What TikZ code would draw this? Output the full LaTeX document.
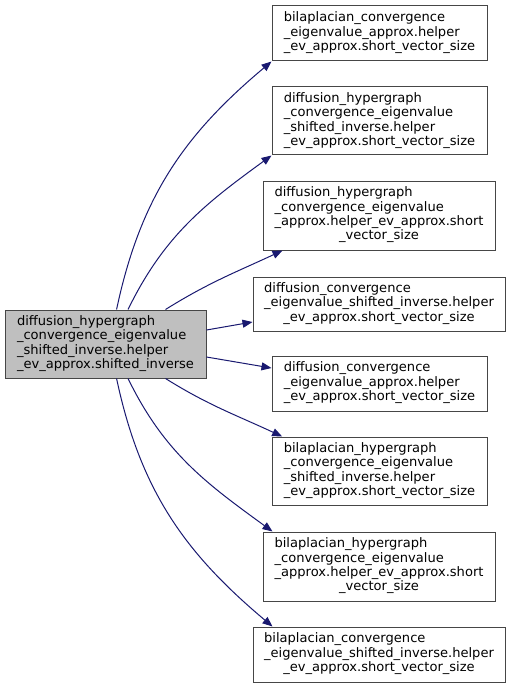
\documentclass[tikz,border=0pt]{standalone}
\usepackage{fontspec}
\setmainfont{DejaVu Sans}
\usepackage{tikz}
\usetikzlibrary{arrows.meta,positioning}

\definecolor{edgeblue}{RGB}{25,25,112}
\definecolor{maingrey}{RGB}{191,191,191}
\definecolor{boxline}{RGB}{70,70,70}

% lines left aligned, last line centred
\newcommand{\fnlabel}[2]{\begin{tabular}{@{}l@{}}#1\\\multicolumn{1}{@{}c@{}}{#2}\end{tabular}}

\begin{document}
\begin{tikzpicture}[
    x=0.75pt, y=0.75pt,
    every node/.style={font=\fontsize{9.8}{10.8}\selectfont},
    fnbox/.style={draw=boxline, fill=white, line width=0.75pt, inner sep=0pt},
    mainbox/.style={fnbox, fill=maingrey},
    call/.style={draw=edgeblue, line width=0.75pt,
        -{Triangle[length=7.5pt,width=6pt]}, fill=none}
]
\useasboundingbox (0,0) rectangle (511,-688);

% Caller
\node[mainbox, minimum width=150.75pt, minimum height=51pt] (main) at (105.5,-344)
    {\fnlabel{diffusion\_hypergraph\\\_convergence\_eigenvalue\\\_shifted\_inverse.helper}{\_ev\_approx.shifted\_inverse}};

% Callees
\node[fnbox, minimum width=161.25pt, minimum height=41.25pt] (t1) at (379.5,-33.5)
    {\fnlabel{bilaplacian\_convergence\\\_eigenvalue\_approx.helper}{\_ev\_approx.short\_vector\_size}};
\node[fnbox, minimum width=161.25pt, minimum height=51pt] (t2) at (379.5,-121)
    {\fnlabel{diffusion\_hypergraph\\\_convergence\_eigenvalue\\\_shifted\_inverse.helper}{\_ev\_approx.short\_vector\_size}};
\node[fnbox, minimum width=174pt, minimum height=51.75pt] (t3) at (379,-215.5)
    {\fnlabel{diffusion\_hypergraph\\\_convergence\_eigenvalue\\\_approx.helper\_ev\_approx.short}{\_vector\_size}};
\node[fnbox, minimum width=189pt, minimum height=40.5pt] (t4) at (379,-304)
    {\fnlabel{diffusion\_convergence\\\_eigenvalue\_shifted\_inverse.helper}{\_ev\_approx.short\_vector\_size}};
\node[fnbox, minimum width=161.25pt, minimum height=41.25pt] (t5) at (379.5,-383.5)
    {\fnlabel{diffusion\_convergence\\\_eigenvalue\_approx.helper}{\_ev\_approx.short\_vector\_size}};
\node[fnbox, minimum width=161.25pt, minimum height=51pt] (t6) at (379.5,-471)
    {\fnlabel{bilaplacian\_hypergraph\\\_convergence\_eigenvalue\\\_shifted\_inverse.helper}{\_ev\_approx.short\_vector\_size}};
\node[fnbox, minimum width=174pt, minimum height=51.75pt] (t7) at (379,-566.5)
    {\fnlabel{bilaplacian\_hypergraph\\\_convergence\_eigenvalue\\\_approx.helper\_ev\_approx.short}{\_vector\_size}};
\node[fnbox, minimum width=189pt, minimum height=41.25pt] (t8) at (379,-654.5)
    {\fnlabel{bilaplacian\_convergence\\\_eigenvalue\_shifted\_inverse.helper}{\_ev\_approx.short\_vector\_size}};

% Calls
\draw[call] ([xshift=8.3pt]main.north) to[out=78,in=220] (t1.south west);
\draw[call] ([xshift=16.9pt]main.north) to[out=64,in=216] (t2.south west);
\draw[call] ([xshift=45pt]main.north) to[out=32,in=205] ([xshift=15pt]t3.south west);
\draw[call] ([yshift=10.5pt]main.east) -- ([yshift=-13.5pt]t4.west);
\draw[call] ([yshift=-9.75pt]main.east) -- ([yshift=11.6pt]t5.west);
\draw[call] ([xshift=45pt]main.south) to[out=-32,in=155] ([xshift=8pt]t6.north west);
\draw[call] ([xshift=16.9pt]main.south) to[out=-64,in=144] ([xshift=7.5pt]t7.north west);
\draw[call] ([xshift=8.3pt]main.south) to[out=-78,in=140] ([xshift=15pt]t8.north west);

\end{tikzpicture}
\end{document}
